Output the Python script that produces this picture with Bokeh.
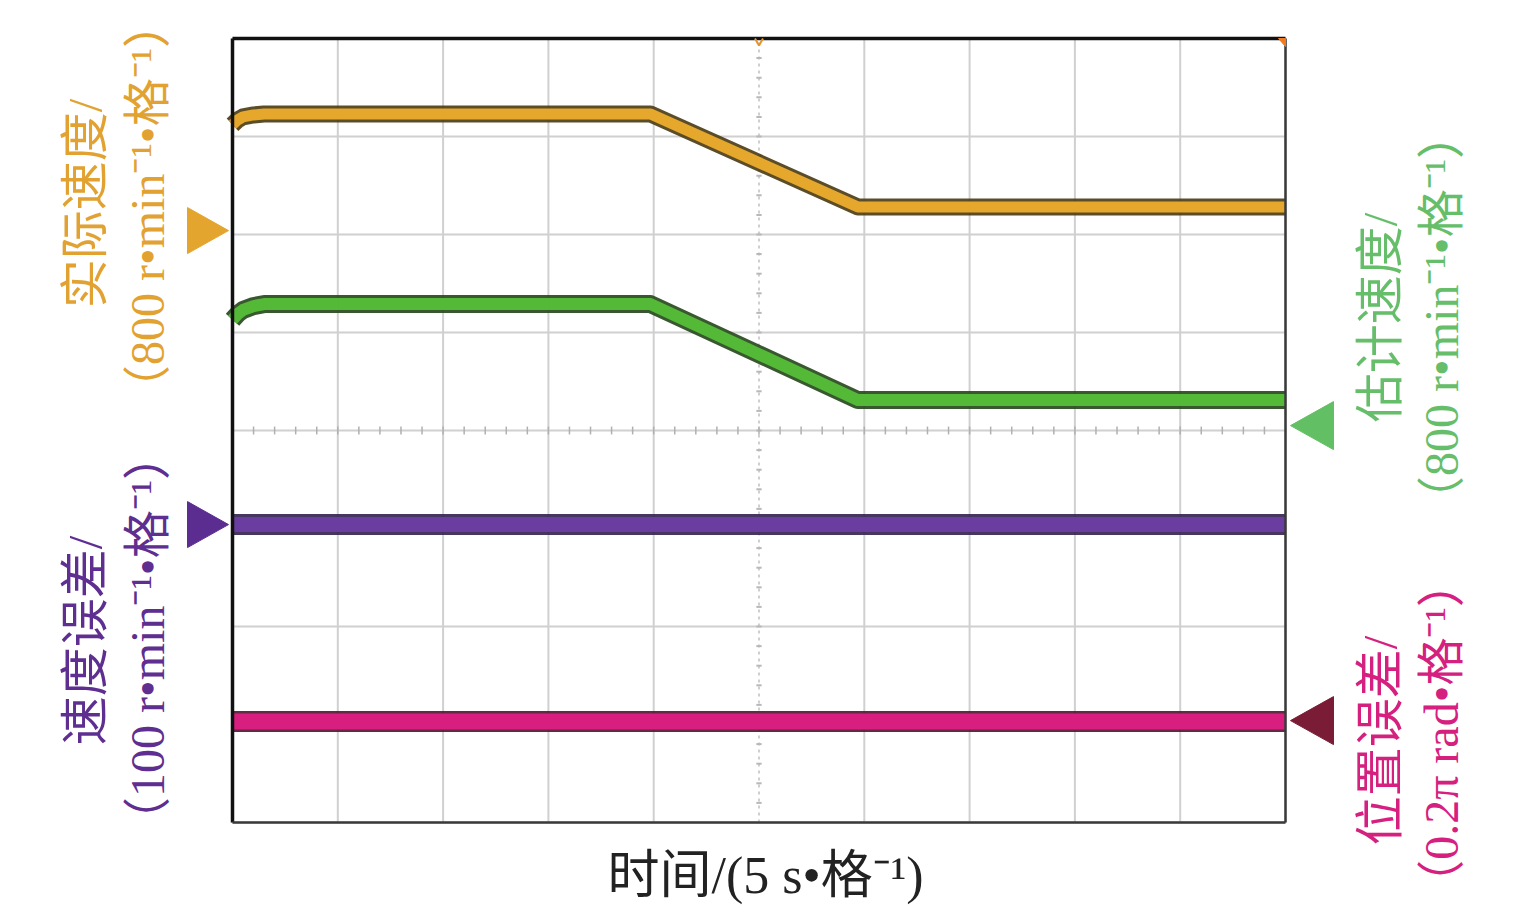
import numpy as np
from bokeh.plotting import figure
from bokeh.models import Label, Range1d
from bokeh.embed import file_html
from bokeh.resources import INLINE

# ---------------- data (in screen divisions; x: 5 s/div, y: per-channel scale) ----------------
t_speed = [0.0, 0.05, 0.10, 0.20, 0.30, 3.97, 5.94, 10.0]
actual_speed = [7.12, 7.17, 7.20, 7.22, 7.23, 7.23, 6.28, 6.28]
estimated_speed = [5.13, 5.19, 5.23, 5.27, 5.29, 5.29, 4.31, 4.31]
t_err = [0.0, 10.0]
speed_error = [3.04, 3.04]
position_error = [1.03, 1.03]

# channel ground-level markers
ref_actual = 6.04
ref_estimated = 4.05
ref_speed_err = 3.04
ref_pos_err = 1.04

# grid divisions
x_div = list(range(0, 11))
y_div = list(range(0, 9))

# texts
lbl_actual = ["实际速度/", "（800 r•min⁻¹•格⁻¹）"]
lbl_speed_err = ["速度误差/", "（100 r•min⁻¹•格⁻¹）"]
lbl_estimated = ["估计速度/", "（800 r•min⁻¹•格⁻¹）"]
lbl_pos_err = ["位置误差/", "（0.2π rad•格⁻¹）"]
lbl_time = "时间/(5 s•格⁻¹)"

# ---------------- figure: the frame covers the whole canvas ----------------
W, H = 1525, 910
BOX_L, BOX_T, BOX_W, BOX_H = 232, 38, 1053, 784   # oscilloscope screen in pixels
px_x = BOX_W / 10.0
px_y = BOX_H / 8.0
x_range = Range1d(-BOX_L / px_x, (W - BOX_L) / px_x)
y_range = Range1d(-(H - BOX_T - BOX_H) / px_y, (BOX_T + BOX_H) / px_y)

p = figure(width=W, height=H, x_range=x_range, y_range=y_range,
           output_backend="svg", toolbar_location=None,
           x_axis_location=None, y_axis_location=None,
           min_border=0)
p.xgrid.visible = False
p.ygrid.visible = False
p.outline_line_color = None
p.background_fill_color = "white"
p.border_fill_color = "white"

GRID = "#d0d0d0"
xv = [x for x in x_div if x != 5]
p.segment(x0=xv, y0=[0] * len(xv), x1=xv, y1=[8] * len(xv), line_color=GRID, line_width=2)
p.segment(x0=[5], y0=[0], x1=[5], y1=[8], line_color="#cfcfcf", line_width=2, line_dash="3 4")
p.segment(x0=[0] * len(y_div), y0=y_div, x1=[10] * len(y_div), y1=y_div, line_color=GRID, line_width=2)

# minor tick marks on the centre cross
mt_y = np.arange(0.2, 8.0, 0.2)
p.segment(x0=5 - 0.025, y0=mt_y, x1=5 + 0.025, y1=mt_y, line_color="#b8b8b8", line_width=2)
mt_x = np.arange(0.2, 10.0, 0.2)
p.segment(x0=mt_x, y0=4 - 0.04, x1=mt_x, y1=4 + 0.04, line_color="#b0b0b0", line_width=1.5)

# ---------------- traces ----------------
def trace(x, y, edge, core, w_edge, w_core):
    p.line(x, y, line_color=edge, line_width=w_edge, line_join="round", line_cap="butt", line_alpha=0.9)
    p.line(x, y, line_color=core, line_width=w_core, line_join="round", line_cap="butt")

trace(t_speed, actual_speed, "#4a3a12", "#E6A82C", 17, 11)
trace(t_speed, estimated_speed, "#24461a", "#55B938", 18, 12)
trace(t_err, speed_error, "#33204f", "#6A3EA1", 21, 15)
trace(t_err, position_error, "#561130", "#D81E7F", 21, 16)

# screen border (top/left darker and thicker)
p.segment(x0=[0, 0], y0=[8, 0], x1=[10, 0], y1=[8, 8], line_color="#111111", line_width=3.5)
p.segment(x0=[0, 10], y0=[0, 0], x1=[10, 10], y1=[0, 8], line_color="#3a3a3a", line_width=2.5)

# ---------------- channel markers ----------------
def tri_right(level):
    tip, base, hh = -4 / px_x, -45 / px_x, 23 / px_y
    return [base, tip, base], [level + hh, level, level - hh]

def tri_left(level):
    tip, base, hh = 10 + 5 / px_x, 10 + 48 / px_x, 24 / px_y
    return [base, tip, base], [level + hh, level, level - hh]

tris = [tri_right(ref_actual), tri_right(ref_speed_err), tri_left(ref_estimated), tri_left(ref_pos_err)]
p.patches(xs=[t[0] for t in tris], ys=[t[1] for t in tris],
          fill_color=["#E4A52F", "#5C2D91", "#63BF63", "#7A1C36"],
          line_color=["#E4A52F", "#5C2D91", "#63BF63", "#7A1C36"], line_width=1)

# trigger marks at top
p.line(x=[5 - 4 / px_x, 5, 5 + 4 / px_x], y=[8, 8 - 7 / px_y, 8], line_color="#E8922A", line_width=2)
p.patches(xs=[[10 - 7 / px_x, 10, 10]], ys=[[8, 8, 8 - 8 / px_y]],
          fill_color="#F07A20", line_color="#F07A20")

# ---------------- labels ----------------
FONT = "'Liberation Serif', 'Noto Sans CJK SC', serif"

def vlabel(text, px, py, color, size):
    p.add_layout(Label(x=px, y=H - py, x_units="screen", y_units="screen", text=text,
                       angle=np.pi / 2, text_align="center", text_baseline="middle",
                       text_color=color, text_font=FONT, text_font_size=size))

C_OR, C_PU, C_GR, C_MA = "#E2A232", "#5E2F91", "#66BE6A", "#D6207F"
vlabel(lbl_actual[0], 85, 203, C_OR, "49px")
vlabel(lbl_actual[1], 147, 206, C_OR, "48px")
vlabel(lbl_speed_err[0], 85, 640, C_PU, "49px")
vlabel(lbl_speed_err[1], 147, 638, C_PU, "48px")
vlabel(lbl_estimated[0], 1380, 317, C_GR, "49px")
vlabel(lbl_estimated[1], 1441, 317, C_GR, "48px")
vlabel(lbl_pos_err[0], 1380, 740, C_MA, "49px")
vlabel(lbl_pos_err[1], 1441, 733, C_MA, "48px")

p.add_layout(Label(x=765, y=H - 875, x_units="screen", y_units="screen", text=lbl_time,
                   text_align="center", text_baseline="middle", text_color="#222222",
                   text_font=FONT, text_font_size="52px"))

open("out.html", "w").write(file_html(p, INLINE))
